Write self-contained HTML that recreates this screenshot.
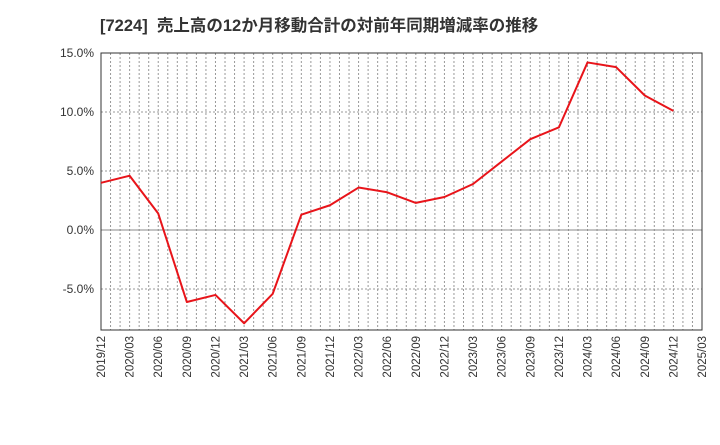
<!DOCTYPE html>
<html><head><meta charset="utf-8"><style>
body{margin:0;background:#fff;width:720px;height:440px;overflow:hidden}
svg text{font-family:"Liberation Sans","Noto Sans CJK JP",sans-serif}
</style></head><body>
<svg id="c" width="720" height="440">
<text x="100" y="31" font-size="16.5" font-weight="bold" fill="#333" style="white-space:pre">[7224]  売上高の12か月移動合計の対前年同期増減率の推移</text>
<g id="grid"></g><g id="axes"></g><g id="series"></g>
</svg>
<script>
const categories=["2019/12","2020/03","2020/06","2020/09","2020/12","2021/03","2021/06","2021/09","2021/12","2022/03","2022/06","2022/09","2022/12","2023/03","2023/06","2023/09","2023/12","2024/03","2024/06","2024/09","2024/12"];
const tickLabels=["2019/12","2020/03","2020/06","2020/09","2020/12","2021/03","2021/06","2021/09","2021/12","2022/03","2022/06","2022/09","2022/12","2023/03","2023/06","2023/09","2023/12","2024/03","2024/06","2024/09","2024/12","2025/03"];
const values=[4.0,4.6,1.4,-6.1,-5.5,-7.9,-5.4,1.3,2.1,3.6,3.2,2.3,2.8,3.9,5.8,7.7,8.7,14.2,13.8,11.4,10.1];
const yTicks=[15,10,5,0,-5];
const ns="http://www.w3.org/2000/svg";
const L=101,R=702,T=53,B=330,yMax=15,yMin=-8.47;
const step=(R-L)/(tickLabels.length-1);
const x=i=>L+i*step;
const y=v=>T+(yMax-v)/(yMax-yMin)*(B-T);
function mk(tag,attrs,parent){const e=document.createElementNS(ns,tag);for(const k in attrs)e.setAttribute(k,attrs[k]);document.getElementById(parent).appendChild(e);return e;}
for(let m=1;m<(tickLabels.length-1)*3;m++){
 const xx=L+m*step/3;
 const g=mk('line',{x1:xx,x2:xx,y1:T,y2:B,stroke:'#999','stroke-width':1,'stroke-dasharray':'2,2'},'grid');
 
 
}
yTicks.forEach(v=>{
 const yy=y(v);
 const g=mk('line',{x1:L,x2:R,y1:yy,y2:yy,stroke:v===0?'#888':'#999','stroke-width':1,'stroke-dasharray':v===0?'none':'2,2'},'grid');
 
 
 const t=mk('text',{x:L-7,y:yy+4,'text-anchor':'end','font-size':12,fill:'#333'},'axes');
 t.textContent=v.toFixed(1)+'%';
 
 
});
tickLabels.forEach((s,i)=>{
 const t=mk('text',{transform:`translate(${x(i)+4},${B+6}) rotate(-90)`,'text-anchor':'end','font-size':11.5,fill:'#333'},'axes');
 t.textContent=s;
 
 
});
const f=mk('rect',{x:L,y:T,width:R-L,height:B-T,fill:'none',stroke:'#333','stroke-width':1},'axes');


const p=mk('polyline',{points:values.map((v,i)=>x(i)+','+y(v)).join(' '),fill:'none',stroke:'#e8141a','stroke-width':2,'stroke-linejoin':'round'},'series');


</script>
</body></html>
